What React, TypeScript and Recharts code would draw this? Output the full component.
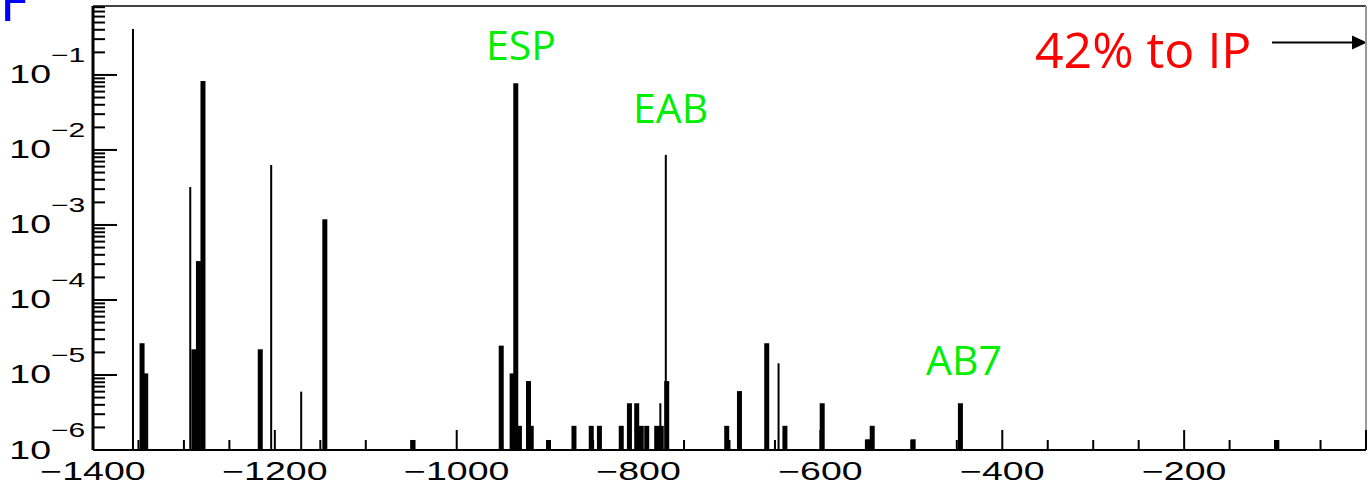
import { BarChart, Bar, XAxis, YAxis, ReferenceLine } from "recharts";

// loss along the beamline, position (m) vs fraction lost per bin
const binPositions = [
  -1346, -1342, -1289, -1284, -1279, -1216, -1145, -1048, -951, -939, -935, -931,
  -921, -918, -899, -871, -852, -843, -819, -810, -802, -797, -791, -780, -775, -769,
  -703, -689, -659, -639, -598, -548, -543, -498, -446, -98
];
const binLosses = [
  2.65e-5, 1.05e-5, 2.2e-5, 3.3e-4, 0.083, 2.2e-5, 1.19e-3, 1.36e-6, 2.46e-5, 1.05e-5, 0.0774, 2.1e-6,
  8.3e-6, 2.1e-6, 1.36e-6, 2.1e-6, 2.1e-6, 2.1e-6, 2.1e-6, 4.2e-6, 4.2e-6, 2.1e-6, 2.1e-6, 2.1e-6, 2.1e-6, 8.3e-6,
  2.1e-6, 6.1e-6, 2.65e-5, 2.1e-6, 4.2e-6, 1.39e-6, 2.1e-6, 1.39e-6, 4.2e-6, 1.36e-6
];
// narrow single-bin spikes
const linePositions = [-1356, -1293, -1204, -1171, -776, -770, -646];
const lineLosses = [0.41, 3.2e-3, 6.3e-3, 6.0e-6, 4.2e-6, 8.6e-3, 1.43e-5];

const decades = [-6, -5, -4, -3, -2, -1];
const mantissas = [1, 2, 3, 4, 5, 6, 7, 8, 9];
const xMajorTicks = [-1400, -1200, -1000, -800, -600, -400, -200, 0];
const xMinorStep = 50;

const X_DOMAIN: [number, number] = [-1400, 0];
const Y_DOMAIN: [number, number] = [1e-6, 0.83];

const GREEN = "#00ee00";
const AXIS_FONT = "'Liberation Sans', Arial, sans-serif";
const NOTE_FONT = "'Open Sans', sans-serif";

const rows = [
  ...binPositions.map((x, i) => ({ x, wide: binLosses[i], thin: null as number | null })),
  ...linePositions.map((x, i) => ({ x, wide: null as number | null, thin: lineLosses[i] }))
].sort((a, b) => a.x - b.x);

const yTicks = decades
  .flatMap((d) => mantissas.map((m) => m * Math.pow(10, d)))
  .filter((v) => v <= Y_DOMAIN[1]);

const xTicks: number[] = [];
for (let v = X_DOMAIN[0]; v <= X_DOMAIN[1]; v += xMinorStep) xTicks.push(v);

function spike(key: "wide" | "thin", w: number) {
  return (p: any) => {
    const { x, y, width, height, payload } = p;
    if (payload == null || payload[key] == null) return <g />;
    if (![x, y, width, height].every(Number.isFinite) || height <= 0) return <g />;
    return <rect x={x + width / 2 - w / 2} y={y} width={w} height={height} fill="#000" />;
  };
}

function YTick({ x, y, payload }: any) {
  const exp = Math.log10(payload.value);
  const decade = Math.abs(exp - Math.round(exp)) < 1e-6;
  return (
    <g>
      <line x1={x} x2={x + (decade ? 24 : 12)} y1={y} y2={y} stroke="#000" strokeWidth={2} />
      {decade && (
        <>
          <text
            transform={`translate(${x - 42},${y + 8.5}) scale(1.5,1)`}
            textAnchor="end"
            fontFamily={AXIS_FONT}
            fontSize={25}
            fill="#000"
          >
            10
          </text>
          <text
            transform={`translate(${x - 42},${y - 13}) scale(1.5,1)`}
            textAnchor="start"
            fontFamily={AXIS_FONT}
            fontSize={20}
            fill="#000"
          >
            {`\u2212${-Math.round(exp)}`}
          </text>
        </>
      )}
    </g>
  );
}

function XTick({ x, y, payload }: any) {
  const v = payload.value;
  const major = xMajorTicks.includes(v);
  return (
    <g>
      <line x1={x} x2={x} y1={y} y2={y - (major ? 20 : 10)} stroke="#000" strokeWidth={2} />
      {major && v < 0 && (
        <text
          transform={`translate(${x},${y + 30}) scale(1.5,1)`}
          textAnchor="middle"
          fontFamily={AXIS_FONT}
          fontSize={25}
          fill="#000"
        >
          {`\u2212${-v}`}
        </text>
      )}
    </g>
  );
}

export default function App() {
  return (
    <div
      style={{
        position: "absolute",
        left: 0,
        top: 0,
        width: 1367,
        height: 490,
        overflow: "hidden",
        background: "#fff"
      }}
    >
      <BarChart
        width={1367}
        height={490}
        data={rows}
        margin={{ top: 6, right: 1, bottom: 0, left: 0 }}
      >
        <XAxis
          xAxisId="main"
          dataKey="x"
          type="number"
          domain={X_DOMAIN}
          allowDataOverflow
          ticks={xTicks}
          interval={0}
          tick={<XTick />}
          tickLine={false}
          tickSize={0}
          tickMargin={0}
          height={40}
          axisLine={{ stroke: "#000", strokeWidth: 2 }}
        />
        <XAxis xAxisId="thin" dataKey="x" type="number" domain={X_DOMAIN} allowDataOverflow hide />
        <YAxis
          scale="log"
          type="number"
          domain={Y_DOMAIN}
          allowDataOverflow
          ticks={yTicks}
          interval={0}
          tick={<YTick />}
          tickLine={false}
          tickSize={0}
          tickMargin={0}
          width={93}
          axisLine={{ stroke: "#000", strokeWidth: 3 }}
        />
        <ReferenceLine xAxisId="main" y={Y_DOMAIN[1]} stroke="#444" strokeWidth={2} />
        <ReferenceLine xAxisId="main" x={X_DOMAIN[1]} stroke="#999" strokeWidth={2} />
        <Bar
          xAxisId="main"
          dataKey="wide"
          barSize={5}
          shape={spike("wide", 5)}
          isAnimationActive={false}
        />
        <Bar
          xAxisId="thin"
          dataKey="thin"
          barSize={2}
          shape={spike("thin", 2)}
          isAnimationActive={false}
        />
        <text x={486} y={60} fill={GREEN} fontFamily={NOTE_FONT} fontSize={41}>
          ESP
        </text>
        <text x={633} y={123} fill={GREEN} fontFamily={NOTE_FONT} fontSize={41}>
          EAB
        </text>
        <text x={926} y={375} fill={GREEN} fontFamily={NOTE_FONT} fontSize={41}>
          AB7
        </text>
        <text x={1035} y={68} fill="#ff0000" fontFamily={NOTE_FONT} fontSize={50}>
          42% to IP
        </text>
        <line x1={1272} y1={42.5} x2={1354} y2={42.5} stroke="#000" strokeWidth={2} />
        <polygon points="1352,35.5 1367,42.5 1352,49.5" fill="#000" />
        <text x={0} y={21} fill="#0000ff" fontFamily="'DejaVu Sans', sans-serif" fontSize={52}>
          F
        </text>
      </BarChart>
    </div>
  );
}
